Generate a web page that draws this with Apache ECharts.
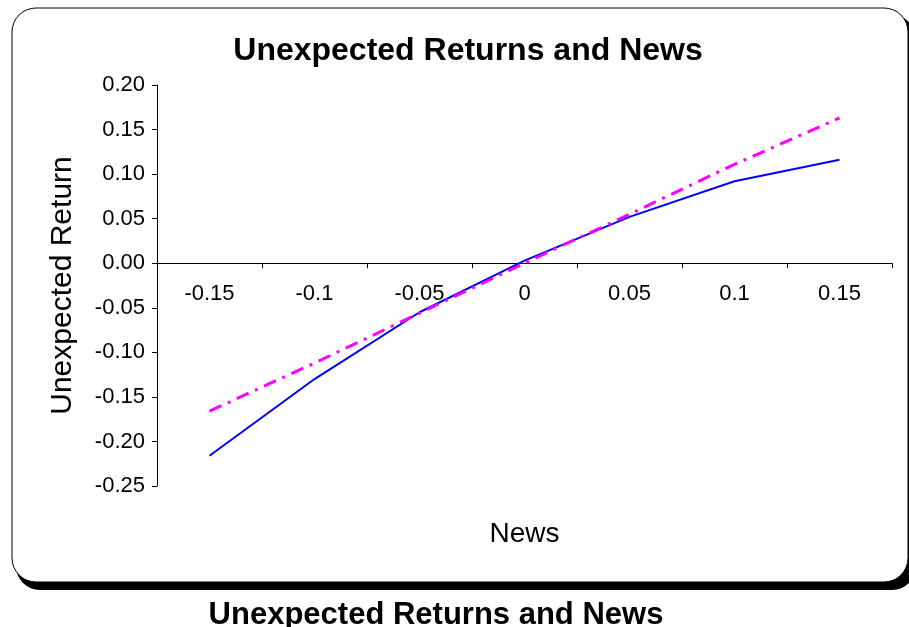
<!DOCTYPE html>
<html>
<head>
<meta charset="utf-8">
<script src="https://cdn.jsdelivr.net/npm/echarts@6/dist/echarts.min.js"></script>
<style>
  html, body { margin: 0; padding: 0; background: #ffffff; }
  #chart { width: 909px; height: 627px; }
</style>
</head>
<body>
<div id="chart"></div>
<script>
// News shocks on the category axis
const newsCategories = ['-0.15', '-0.1', '-0.05', '0', '0.05', '0.1', '0.15'];
// Asymmetric response (solid blue)
const asymmetricReturn = [-0.216, -0.130, -0.055, 0.003, 0.052, 0.092, 0.116];
// Linear response (magenta dash-dot)
const linearReturn = [-0.166, -0.112, -0.056, 0.000, 0.055, 0.111, 0.163];
// Value axis range
const yMin = -0.25, yMax = 0.20, yStep = 0.05;

const gridTop = 85, gridBottom = 141, chartHeight = 627;
// Shift the category axis up so it sits on the zero line of the value axis
const plotHeight = chartHeight - gridTop - gridBottom;
const zeroOffset = -plotHeight * (0 - yMin) / (yMax - yMin);

const chart = echarts.init(document.getElementById('chart'), null, { renderer: 'canvas' });

const font = 'Arial, "Liberation Sans", Helvetica, sans-serif';

chart.setOption({
  backgroundColor: '#ffffff',
  animation: false,
  graphic: [
    { type: 'rect', z: -20, silent: true,
      shape: { x: 16, y: 15, width: 900, height: 575, r: 24 },
      style: { fill: '#000000' } },
    { type: 'rect', z: -10, silent: true,
      shape: { x: 12, y: 8, width: 896, height: 574, r: 24 },
      style: { fill: '#ffffff', stroke: '#000000', lineWidth: 1 } }
  ],
  title: [
    { text: 'Unexpected Returns and News', left: 463, top: 30, textAlign: 'center',
      textStyle: { fontFamily: font, fontWeight: 'bold', fontSize: 32, color: '#000' } },
    { text: 'Unexpected Returns and News', left: 431, top: 595, textAlign: 'center',
      textStyle: { fontFamily: font, fontWeight: 'bold', fontSize: 31, color: '#000' } }
  ],
  grid: { left: 157, right: 17, top: gridTop, bottom: gridBottom, containLabel: false, outerBoundsMode: 'none' },
  xAxis: {
    type: 'category',
    data: newsCategories,
    boundaryGap: true,
    offset: zeroOffset,
    name: 'News',
    nameLocation: 'middle',
    nameGap: 257,
    nameTextStyle: { fontFamily: font, fontSize: 28, color: '#000' },
    axisLine: { onZero: false, lineStyle: { color: '#000', width: 1 } },
    axisTick: { show: true, length: 5, lineStyle: { color: '#000' } },
    axisLabel: { margin: 20, fontFamily: font, fontSize: 22, color: '#000' },
    splitLine: { show: false }
  },
  yAxis: {
    type: 'value',
    min: yMin, max: yMax, interval: yStep,
    name: 'Unexpected Return',
    nameLocation: 'middle',
    nameRotate: 90,
    nameGap: 79,
    nameTextStyle: { fontFamily: font, fontSize: 30, color: '#000' },
    axisLine: { show: true, lineStyle: { color: '#000', width: 1 } },
    axisTick: { show: true, length: 5, lineStyle: { color: '#000' } },
    axisLabel: { margin: 12, fontFamily: font, fontSize: 22, color: '#000',
      formatter: v => v.toFixed(2) },
    splitLine: { show: false }
  },
  series: [
    { type: 'line', data: asymmetricReturn, symbol: 'none', z: 3,
      lineStyle: { color: '#0000ff', width: 2 } },
    { type: 'line', data: linearReturn, symbol: 'none', z: 4,
      lineStyle: { color: '#ff00ff', width: 3, type: [13, 7, 3, 7] } }
  ]
});
</script>
</body>
</html>
